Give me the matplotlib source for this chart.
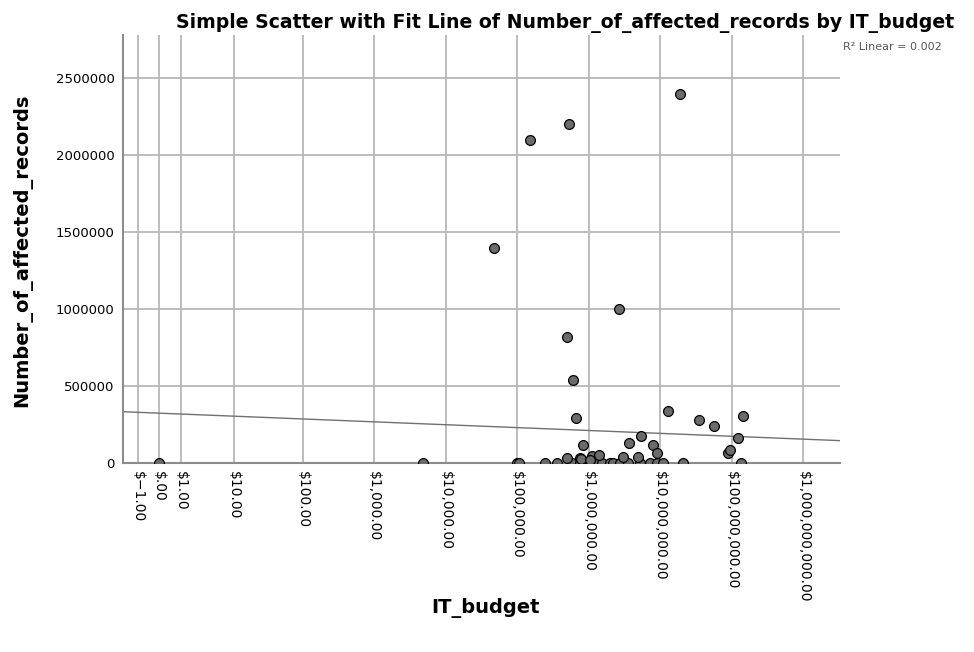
import numpy as np
import matplotlib
matplotlib.use("Agg")
import matplotlib.pyplot as plt

# IT budget ($) and number of affected records
it_budget = [
    0, 4.8e3, 1.01e5, 1.06e5, 2.44e5, 3.66e5, 5.75e5, 7.5e5, 1.04e6, 1.28e6,
    1.51e6, 1.97e6, 2.19e6, 2.72e6, 3.55e6, 5.17e6, 7.13e6, 9.0e6, 1.09e7,
    2.08e7, 1.33e8,
    4.99e5, 7.5e5, 1.1e6, 1.38e6, 3.0e6, 4.9e6, 7.7e5, 1.04e6,
    8.3e5, 3.6e6, 7.8e6, 8.9e6, 5.46e6, 8.9e7, 9.5e7, 1.21e8,
    1.27e7, 3.45e7, 5.7e7, 1.41e8, 6.67e5, 6.0e5, 4.9e5, 2.61e6,
    4.68e4, 1.49e5, 5.27e5, 1.89e7,
]
affected_records = [
    0, 0, 0, 0, 0, 0, 0, 0, 0, 0,
    0, 0, 0, 0, 0, 0, 0, 0, 0,
    0, 0,
    30000, 30000, 45000, 50000, 37000, 37000, 24000, 19000,
    117000, 128000, 117000, 67000, 175000, 63000, 84000, 160000,
    338000, 281000, 242000, 303000, 294000, 541000, 820000, 1002000,
    1400000, 2100000, 2200000, 2400000,
]

x_ticks = [-1, 0, 1, 10, 100, 1e3, 1e4, 1e5, 1e6, 1e7, 1e8, 1e9]
x_tick_labels = [
    "$\u22121.00", "$.00", "$1.00", "$10.00", "$100.00", "$1,000.00",
    "$10,000.00", "$100,000.00", "$1,000,000.00", "$10,000,000.00",
    "$100,000,000.00", "$1,000,000,000.00",
]
y_ticks = [0, 500000, 1000000, 1500000, 2000000, 2500000]

x_min, x_max = -2.24, 3.2e9
y_min, y_max = 0, 2780000
fit_start = (x_min, 333000)
fit_end = (x_max, 145000)
r2_text = "R\u00b2 Linear = 0.002"


def safe_log(x):
    x = np.asarray(x, dtype=float)
    return np.sign(x) * np.log10(1 + np.abs(x))


def safe_log_inv(t):
    t = np.asarray(t, dtype=float)
    return np.sign(t) * (10 ** np.abs(t) - 1)


fig = plt.figure(figsize=(9.74, 6.52), dpi=100)
ax = fig.add_axes([0.126, 0.290, 0.736, 0.656])

ax.set_xscale("function", functions=(safe_log, safe_log_inv))
ax.set_xlim(x_min, x_max)
ax.set_ylim(y_min, y_max)

ax.set_xticks(x_ticks)
ax.set_xticklabels(x_tick_labels, rotation=270, fontsize=10)
ax.set_yticks(y_ticks)
ax.set_yticklabels([str(v) for v in y_ticks], fontsize=9.5)
ax.minorticks_off()
ax.tick_params(length=0, pad=6)

ax.grid(True, color="#b8b8b8", linewidth=1.3)
ax.set_axisbelow(True)
for side in ["top", "right"]:
    ax.spines[side].set_visible(False)
for side in ["left", "bottom"]:
    ax.spines[side].set_color("#8c8c8c")
    ax.spines[side].set_linewidth(1.5)

ax.axline(fit_start, fit_end, color="#707070", linewidth=1, zorder=2)

ax.scatter(it_budget, affected_records, s=50, color="#6b6b6b",
           edgecolor="black", linewidth=0.9, zorder=3, clip_on=True)

fig.text(0.498, 1 - 608 / 652, "IT_budget", ha="center", va="center",
         fontsize=14, fontweight="bold")
fig.text(22 / 974, 1 - 250 / 652, "Number_of_affected_records", ha="center",
         va="center", rotation=90, fontsize=14, fontweight="bold")

fig.text(0.58, 0.965, "Simple Scatter with Fit Line of Number_of_affected_records by IT_budget",
         ha="center", va="center", fontsize=13.6, fontweight="bold")
fig.text(0.866, 0.928, r2_text, ha="left", va="center", fontsize=8,
         color="#555555")

fig.savefig("out.png", dpi=100)
